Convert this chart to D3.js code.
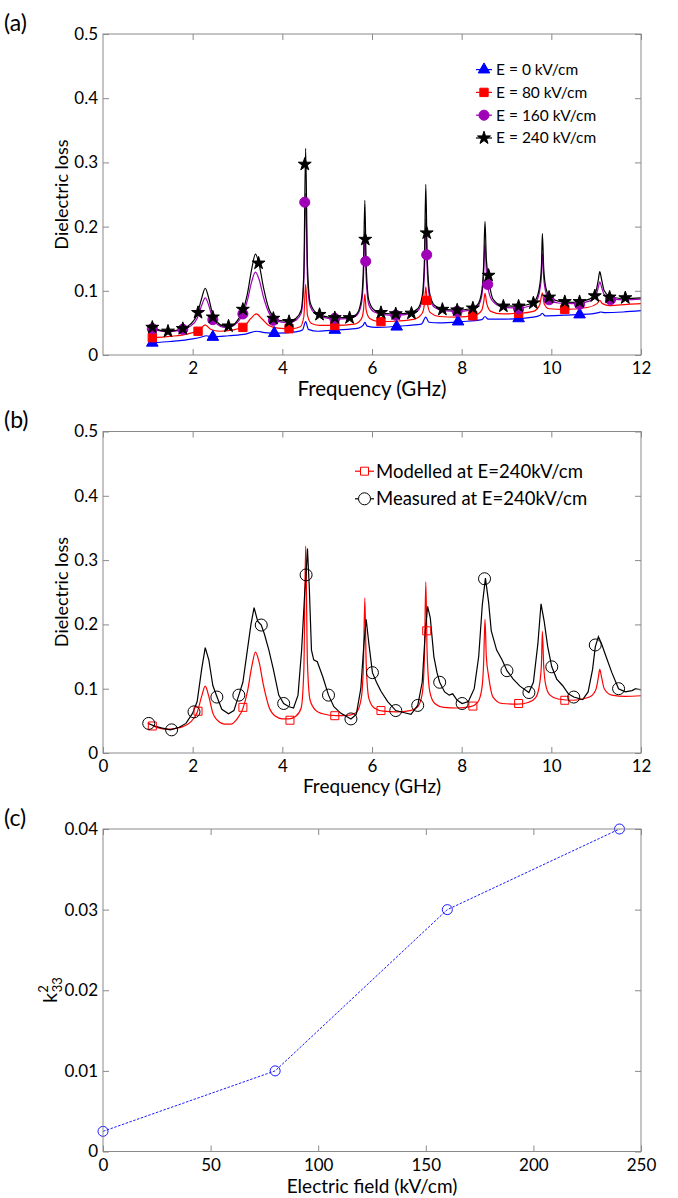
<!DOCTYPE html>
<html>
<head>
<meta charset="utf-8">
<script src="https://cdn.jsdelivr.net/npm/d3@7"></script>
<style>
  body { margin: 0; background: #fff; }
  svg { display: block; font-family: Lato, "Open Sans", sans-serif; }
</style>
</head>
<body>
<svg id="chart" width="678" height="1198"></svg>
<script>
// ---- (a) modelled dielectric loss at four fields, [GHz, loss] ----
var curveE0 = [[1.1,0.019],[1.5,0.021],[2.0,0.025],[2.2,0.028],[2.3,0.03],[2.45,0.028],[2.8,0.03],[3.2,0.033],[3.42,0.037],[3.6,0.035],[3.9,0.034],[4.3,0.036],[4.45,0.039],[4.52,0.052],[4.58,0.04],[4.8,0.037],[5.2,0.039],[5.7,0.042],[5.8,0.046],[5.84,0.051],[5.89,0.045],[6.1,0.043],[6.6,0.045],[7.1,0.048],[7.2,0.059],[7.27,0.051],[7.5,0.05],[8.0,0.052],[8.45,0.055],[8.52,0.06],[8.59,0.056],[9.0,0.056],[9.6,0.059],[9.75,0.062],[9.8,0.065],[9.86,0.061],[10.3,0.062],[10.9,0.064],[11.05,0.066],[11.1,0.067],[11.2,0.066],[11.6,0.067],[12,0.069]];
var curveE80 = [[1.1,0.027],[1.5,0.029],[1.9,0.033],[2.15,0.039],[2.28,0.047],[2.4,0.04],[2.6,0.037],[2.9,0.039],[3.15,0.045],[3.3,0.057],[3.42,0.064],[3.55,0.056],[3.7,0.046],[3.9,0.042],[4.2,0.041],[4.4,0.044],[4.48,0.06],[4.52,0.11],[4.56,0.062],[4.65,0.049],[4.85,0.046],[5.2,0.046],[5.6,0.048],[5.76,0.056],[5.81,0.07],[5.84,0.095],[5.87,0.07],[5.95,0.057],[6.15,0.052],[6.6,0.053],[6.95,0.056],[7.12,0.065],[7.17,0.08],[7.2,0.106],[7.23,0.083],[7.3,0.066],[7.5,0.06],[7.9,0.059],[8.3,0.062],[8.45,0.07],[8.49,0.082],[8.52,0.096],[8.56,0.08],[8.65,0.068],[8.9,0.064],[9.3,0.065],[9.6,0.068],[9.74,0.078],[9.8,0.097],[9.84,0.08],[9.95,0.072],[10.3,0.071],[10.8,0.074],[11.02,0.08],[11.08,0.085],[11.14,0.08],[11.3,0.077],[11.7,0.079],[12,0.08]];
var curveE160 = [[1.1,0.041],[1.3,0.037],[1.45,0.036],[1.6,0.037],[1.78,0.04],[1.95,0.045],[2.1,0.057],[2.2,0.077],[2.28,0.089],[2.36,0.077],[2.45,0.056],[2.55,0.048],[2.7,0.043],[2.85,0.044],[3.0,0.051],[3.12,0.063],[3.22,0.085],[3.32,0.115],[3.4,0.129],[3.48,0.118],[3.58,0.09],[3.7,0.066],[3.85,0.054],[4.0,0.051],[4.15,0.05],[4.3,0.054],[4.42,0.065],[4.48,0.115],[4.52,0.252],[4.56,0.12],[4.62,0.076],[4.75,0.063],[4.9,0.059],[5.2,0.056],[5.5,0.057],[5.65,0.061],[5.76,0.078],[5.81,0.12],[5.84,0.194],[5.87,0.12],[5.93,0.078],[6.05,0.067],[6.25,0.063],[6.55,0.062],[6.85,0.064],[7.02,0.069],[7.12,0.085],[7.17,0.13],[7.2,0.212],[7.23,0.135],[7.29,0.088],[7.4,0.074],[7.6,0.069],[7.9,0.068],[8.2,0.07],[8.36,0.076],[8.45,0.093],[8.49,0.125],[8.52,0.174],[8.55,0.13],[8.6,0.1],[8.7,0.083],[8.9,0.075],[9.25,0.073],[9.5,0.076],[9.65,0.082],[9.74,0.1],[9.78,0.125],[9.8,0.158],[9.83,0.12],[9.88,0.097],[9.97,0.086],[10.15,0.081],[10.5,0.08],[10.85,0.084],[11.0,0.094],[11.05,0.106],[11.08,0.114],[11.12,0.106],[11.18,0.094],[11.35,0.087],[11.65,0.086],[12,0.087]];
var curveE240 = [[1.1,0.043],[1.3,0.038],[1.45,0.037],[1.6,0.038],[1.78,0.041],[1.95,0.048],[2.1,0.063],[2.2,0.088],[2.28,0.104],[2.36,0.088],[2.45,0.062],[2.55,0.051],[2.7,0.045],[2.85,0.045],[3.0,0.054],[3.12,0.069],[3.22,0.095],[3.32,0.135],[3.4,0.157],[3.48,0.142],[3.58,0.105],[3.7,0.072],[3.85,0.057],[4.0,0.053],[4.15,0.053],[4.3,0.057],[4.42,0.07],[4.48,0.13],[4.52,0.322],[4.56,0.14],[4.62,0.082],[4.75,0.066],[4.9,0.061],[5.2,0.058],[5.5,0.059],[5.65,0.063],[5.76,0.085],[5.81,0.14],[5.84,0.241],[5.87,0.14],[5.93,0.085],[6.05,0.07],[6.25,0.065],[6.55,0.064],[6.85,0.066],[7.02,0.072],[7.12,0.092],[7.17,0.15],[7.2,0.266],[7.23,0.155],[7.29,0.095],[7.4,0.077],[7.6,0.071],[7.9,0.07],[8.2,0.072],[8.36,0.079],[8.45,0.1],[8.49,0.14],[8.52,0.208],[8.55,0.15],[8.6,0.12],[8.7,0.087],[8.9,0.077],[9.25,0.076],[9.5,0.079],[9.65,0.086],[9.74,0.108],[9.78,0.14],[9.8,0.189],[9.83,0.135],[9.88,0.104],[9.97,0.09],[10.15,0.084],[10.5,0.082],[10.85,0.087],[10.95,0.093],[11.0,0.1],[11.05,0.118],[11.08,0.13],[11.12,0.118],[11.18,0.1],[11.35,0.09],[11.65,0.088],[12,0.089]];

// marker positions on those curves
var markE0 = [[1.1,0.019],[2.45,0.028],[3.82,0.034],[5.17,0.039],[6.55,0.044],[7.92,0.052],[9.27,0.057],[10.63,0.063]];
var markE80 = [[1.1,0.027],[2.12,0.037],[3.12,0.043],[4.15,0.041],[5.17,0.046],[6.2,0.052],[7.22,0.085],[8.25,0.061],[9.27,0.065],[10.3,0.071]];
var markE160 = [[1.1,0.041],[1.78,0.04],[2.45,0.055],[3.12,0.064],[3.8,0.054],[4.5,0.238],[5.17,0.057],[5.86,0.146],[6.53,0.062],[7.22,0.156],[7.9,0.068],[8.58,0.11],[9.27,0.072],[9.95,0.086],[10.63,0.079],[11.32,0.086]];
var markE240 = [[1.1,0.043],[1.45,0.037],[1.78,0.041],[2.12,0.066],[2.45,0.059],[2.8,0.045],[3.12,0.071],[3.47,0.143],[3.8,0.057],[4.15,0.052],[4.5,0.297],[4.83,0.063],[5.17,0.058],[5.5,0.058],[5.85,0.18],[6.2,0.066],[6.53,0.064],[6.88,0.065],[7.22,0.19],[7.57,0.071],[7.9,0.07],[8.25,0.073],[8.6,0.124],[8.93,0.076],[9.27,0.076],[9.6,0.081],[9.95,0.09],[10.3,0.083],[10.63,0.083],[10.97,0.092],[11.3,0.09],[11.65,0.089]];

// ---- (b) modelled vs measured at 240 kV/cm ----
var modelled = curveE240;
var markModelled = [[1.1,0.042],[2.12,0.065],[3.12,0.071],[4.17,0.051],[5.17,0.058],[6.2,0.066],[7.22,0.19],[8.25,0.073],[9.27,0.077],[10.3,0.082]];
var measured = [[1.0,0.046],[1.15,0.042],[1.3,0.039],[1.5,0.036],[1.7,0.04],[1.85,0.046],[2.0,0.062],[2.1,0.08],[2.2,0.13],[2.28,0.164],[2.36,0.145],[2.45,0.105],[2.55,0.086],[2.65,0.068],[2.8,0.061],[2.92,0.066],[3.03,0.09],[3.12,0.11],[3.22,0.16],[3.3,0.2],[3.37,0.226],[3.45,0.205],[3.53,0.199],[3.6,0.185],[3.7,0.16],[3.8,0.13],[3.92,0.09],[4.03,0.077],[4.15,0.072],[4.25,0.07],[4.35,0.09],[4.43,0.16],[4.5,0.25],[4.53,0.277],[4.56,0.318],[4.6,0.26],[4.65,0.16],[4.7,0.145],[4.78,0.142],[4.9,0.119],[5.03,0.09],[5.15,0.072],[5.3,0.062],[5.53,0.053],[5.65,0.06],[5.75,0.1],[5.82,0.17],[5.87,0.208],[5.93,0.17],[6.01,0.125],[6.1,0.11],[6.2,0.096],[6.35,0.08],[6.53,0.066],[6.7,0.063],[6.87,0.06],[7.02,0.074],[7.12,0.11],[7.19,0.19],[7.24,0.228],[7.3,0.21],[7.38,0.15],[7.45,0.125],[7.51,0.11],[7.62,0.095],[7.72,0.09],[7.8,0.092],[7.9,0.082],[8.01,0.077],[8.15,0.08],[8.28,0.1],[8.38,0.15],[8.46,0.23],[8.53,0.272],[8.6,0.235],[8.66,0.19],[8.78,0.16],[8.9,0.145],[9.01,0.128],[9.15,0.115],[9.3,0.104],[9.5,0.094],[9.6,0.11],[9.7,0.17],[9.77,0.232],[9.84,0.205],[9.92,0.165],[10.01,0.134],[10.12,0.115],[10.25,0.105],[10.38,0.092],[10.5,0.087],[10.7,0.083],[10.82,0.095],[10.92,0.13],[10.98,0.165],[11.05,0.181],[11.12,0.17],[11.22,0.15],[11.35,0.125],[11.5,0.1],[11.65,0.095],[11.8,0.097],[11.88,0.1],[12,0.098]];
var markMeasured = [[1.02,0.046],[1.53,0.036],[2.03,0.064],[2.54,0.087],[3.03,0.09],[3.53,0.199],[4.03,0.077],[4.53,0.277],[5.03,0.09],[5.53,0.053],[6.01,0.125],[6.53,0.066],[7.02,0.074],[7.51,0.11],[8.01,0.077],[8.51,0.271],[9.01,0.128],[9.5,0.094],[10.01,0.134],[10.5,0.087],[10.98,0.168],[11.5,0.1]];

// ---- (c) coupling coefficient vs field ----
var fields = [0, 80, 160, 240];
var k33 = [0.0025, 0.01, 0.03, 0.04];

// ticks
var freqTicksA = [2, 4, 6, 8, 10, 12];
var freqTicksB = [0, 2, 4, 6, 8, 10, 12];
var lossTicks = [0, 0.1, 0.2, 0.3, 0.4, 0.5];
var fieldTicks = [0, 50, 100, 150, 200, 250];
var kTicks = [0, 0.01, 0.02, 0.03, 0.04];

var svg = d3.select("#chart");
var left = 103, right = 641;
var boxColor = "#8a8a8a";

function frame(g, x, y, xt, yt) {
  var x0 = x.range()[0], x1 = x.range()[1];
  var yb = y.range()[0], yt0 = y.range()[1];
  var axes = [
    [d3.axisBottom(x).tickValues(xt).tickPadding(7), "translate(0," + yb + ")", true],
    [d3.axisTop(x).tickValues(xt), "translate(0," + yt0 + ")", false],
    [d3.axisLeft(y).tickValues(yt).tickPadding(5), "translate(" + x0 + ",0)", true],
    [d3.axisRight(y).tickValues(yt), "translate(" + x1 + ",0)", false]
  ];
  axes.forEach(function (a) {
    var ax = a[0].tickSizeInner(-6).tickSizeOuter(0);
    if (!a[2]) ax.tickFormat("");
    else ax.tickFormat(function (d) { return String(d); });
    var ag = g.append("g").attr("transform", a[1]).call(ax)
      .attr("font-family", null).attr("font-size", 17);
    ag.select(".domain").remove();
    ag.selectAll("line").attr("stroke", boxColor);
    ag.selectAll("text").attr("fill", "#000");
  });
  g.append("rect")
    .attr("x", x0).attr("y", yt0)
    .attr("width", x1 - x0).attr("height", yb - yt0)
    .attr("fill", "none").attr("stroke", boxColor).attr("stroke-width", 1);
}

function yLabel(g, text, x, y, size) {
  g.append("text")
    .attr("transform", "translate(" + x + "," + y + ") rotate(-90)")
    .attr("text-anchor", "middle")
    .attr("font-size", size)
    .text(text);
}

function marker(sel, type, size, fill, stroke) {
  sel.attr("d", d3.symbol().type(type).size(size))
    .attr("fill", fill).attr("stroke", stroke).attr("stroke-width", 1);
}

// ===== panel (a) =====
var gA = svg.append("g");
var xA = d3.scaleLinear().domain([0, 12]).range([left, right]);
var yA = d3.scaleLinear().domain([0, 0.5]).range([355, 34]);

var seriesA = [
  { data: curveE0, marks: markE0, color: "#0000ff", type: d3.symbolTriangle, size: 58, label: "E = 0 kV/cm" },
  { data: curveE80, marks: markE80, color: "#ff0000", type: d3.symbolSquare, size: 70, label: "E = 80 kV/cm" },
  { data: curveE160, marks: markE160, color: "#a000b8", type: d3.symbolCircle, size: 80, label: "E = 160 kV/cm" },
  { data: curveE240, marks: markE240, color: "#000000", type: d3.symbolStar, size: 52, label: "E = 240 kV/cm" }
];

var lineA = d3.line().x(function (d) { return xA(d[0]); }).y(function (d) { return yA(d[1]); })
  .curve(d3.curveMonotoneX);

seriesA.forEach(function (s) {
  gA.append("path").datum(s.data)
    .attr("d", lineA).attr("fill", "none")
    .attr("stroke", s.color).attr("stroke-width", 1.2);
});
seriesA.forEach(function (s) {
  gA.selectAll(null).data(s.marks).enter().append("path")
    .attr("transform", function (d) { return "translate(" + xA(d[0]) + "," + yA(d[1]) + ")"; })
    .call(marker, s.type, s.size, s.color, s.color);
});

frame(gA, xA, yA, freqTicksA, lossTicks);

var legA = gA.append("g").attr("font-size", 15.5);
seriesA.forEach(function (s, i) {
  var ly = 69.6 + i * 22.8;
  legA.append("line").attr("x1", 476).attr("x2", 492).attr("y1", ly).attr("y2", ly)
    .attr("stroke", s.color).attr("stroke-width", 1.2);
  legA.append("path").attr("transform", "translate(484," + ly + ")")
    .call(marker, s.type, s.size, s.color, s.color);
  legA.append("text").attr("x", 496).attr("y", ly).attr("dy", "0.35em").text(s.label);
});

gA.append("text").attr("x", 372).attr("y", 396).attr("text-anchor", "middle")
  .attr("font-size", 20.5).text("Frequency (GHz)");
yLabel(gA, "Dielectric loss", 68, 194.5, 18);
gA.append("text").attr("x", 4).attr("y", 31).attr("font-size", 23).text("(a)");

// ===== panel (b) =====
var gB = svg.append("g");
var xB = d3.scaleLinear().domain([0, 12]).range([left, right]);
var yB = d3.scaleLinear().domain([0, 0.5]).range([753, 431.5]);
var lineB = d3.line().x(function (d) { return xB(d[0]); }).y(function (d) { return yB(d[1]); });

gB.append("path").datum(modelled)
  .attr("d", lineB.curve(d3.curveMonotoneX)).attr("fill", "none")
  .attr("stroke", "#ff0000").attr("stroke-width", 1.2);
gB.append("path").datum(measured)
  .attr("d", lineB.curve(d3.curveLinear)).attr("fill", "none")
  .attr("stroke", "#000").attr("stroke-width", 1.2);

gB.selectAll(null).data(markModelled).enter().append("path")
  .attr("transform", function (d) { return "translate(" + xB(d[0]) + "," + yB(d[1]) + ")"; })
  .call(marker, d3.symbolSquare, 64, "none", "#ff0000");
gB.selectAll(null).data(markMeasured).enter().append("circle")
  .attr("cx", function (d) { return xB(d[0]); }).attr("cy", function (d) { return yB(d[1]); })
  .attr("r", 6).attr("fill", "none").attr("stroke", "#000").attr("stroke-width", 1);

frame(gB, xB, yB, freqTicksB, lossTicks);

var legB = gB.append("g").attr("font-size", 18.5);
[["Modelled at E=240kV/cm", "#ff0000", "sq"], ["Measured at E=240kV/cm", "#000", "ci"]].forEach(function (r, i) {
  var ly = 471.2 + i * 27.6;
  legB.append("line").attr("x1", 355).attr("x2", 374).attr("y1", ly).attr("y2", ly)
    .attr("stroke", r[1]).attr("stroke-width", 1.2);
  if (r[2] === "sq") {
    legB.append("path").attr("transform", "translate(364.5," + ly + ")")
      .call(marker, d3.symbolSquare, 64, "#fff", r[1]);
  } else {
    legB.append("circle").attr("cx", 364.5).attr("cy", ly).attr("r", 6)
      .attr("fill", "#fff").attr("stroke", r[1]);
  }
  legB.append("text").attr("x", 376).attr("y", ly).attr("dy", "0.35em").text(r[0]);
});

gB.append("text").attr("x", 372).attr("y", 793).attr("text-anchor", "middle")
  .attr("font-size", 19).text("Frequency (GHz)");
yLabel(gB, "Dielectric loss", 68, 592, 18);
gB.append("text").attr("x", 4).attr("y", 428).attr("font-size", 23).text("(b)");

// ===== panel (c) =====
var gC = svg.append("g");
var xC = d3.scaleLinear().domain([0, 250]).range([left, right]);
var yC = d3.scaleLinear().domain([0, 0.04]).range([1151.5, 829]);
var kData = fields.map(function (f, i) { return [f, k33[i]]; });

gC.append("path").datum(kData)
  .attr("d", d3.line().x(function (d) { return xC(d[0]); }).y(function (d) { return yC(d[1]); }))
  .attr("fill", "none").attr("stroke", "#1a1aff").attr("stroke-width", 1)
  .attr("stroke-dasharray", "2.5,1.5");
gC.selectAll(null).data(kData).enter().append("circle")
  .attr("cx", function (d) { return xC(d[0]); }).attr("cy", function (d) { return yC(d[1]); })
  .attr("r", 5).attr("fill", "none").attr("stroke", "#1a1aff").attr("stroke-width", 1);

frame(gC, xC, yC, fieldTicks, kTicks);

gC.append("text").attr("x", 372).attr("y", 1193).attr("text-anchor", "middle")
  .attr("font-size", 19).text("Electric field (kV/cm)");
var kl = gC.append("text")
  .attr("transform", "translate(57,990) rotate(-90)")
  .attr("text-anchor", "middle").attr("font-size", 20);
kl.append("tspan").text("k");
kl.append("tspan").attr("font-size", 13).attr("dy", -9).text("2");
kl.append("tspan").attr("font-size", 13).attr("dx", -7).attr("dy", 14).text("33");
gC.append("text").attr("x", 4).attr("y", 826).attr("font-size", 23).text("(c)");
</script>
</body>
</html>
